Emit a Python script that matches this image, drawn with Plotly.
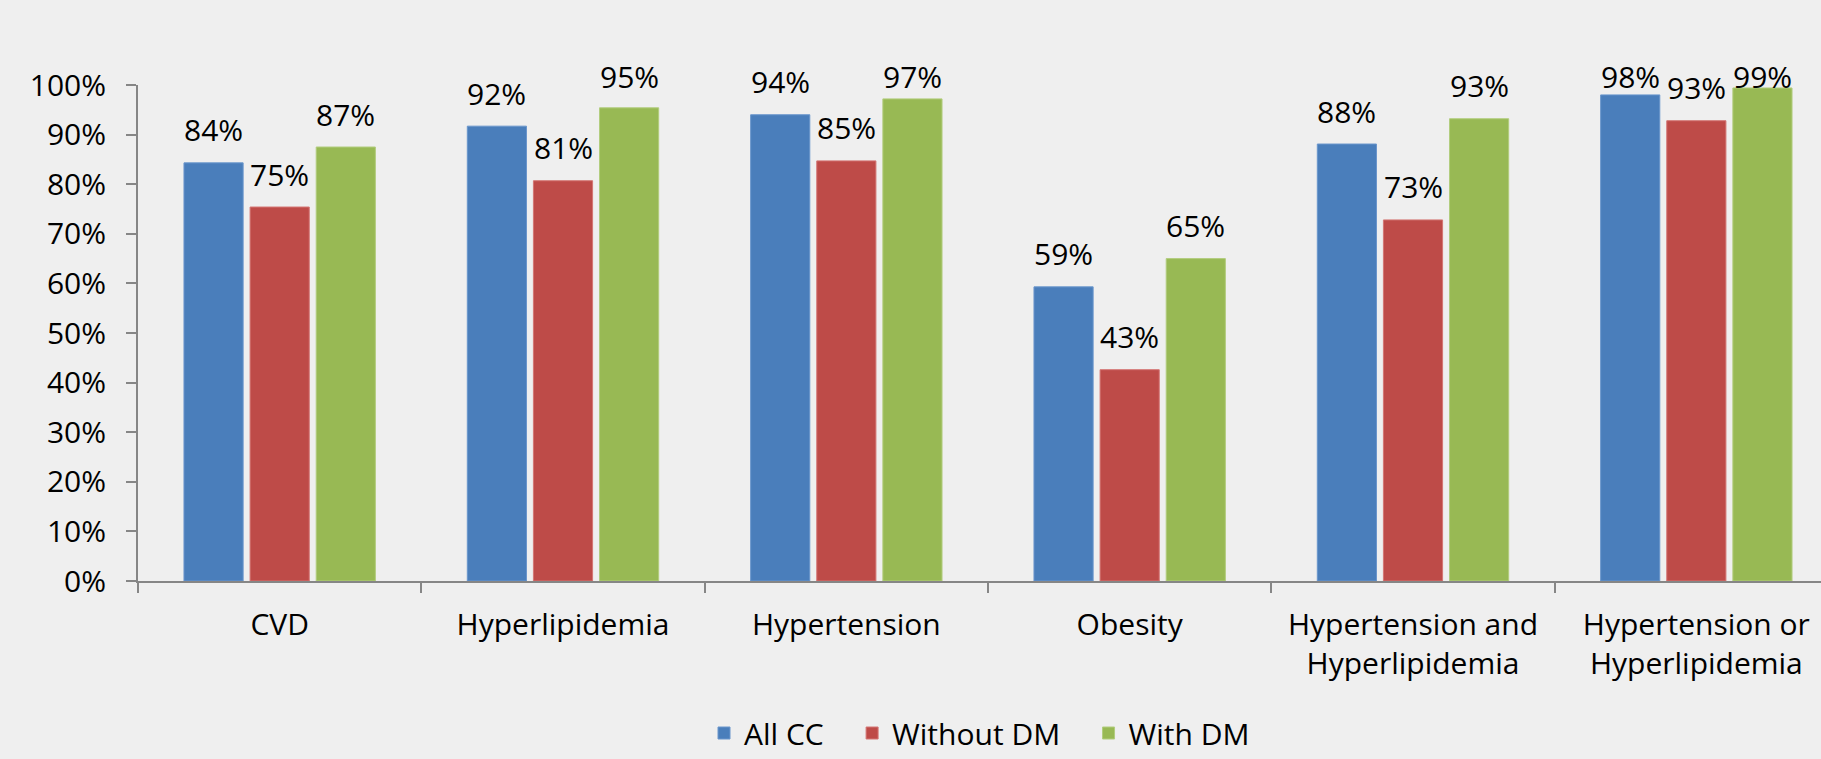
import plotly.graph_objects as go

categories = ["CVD", "Hyperlipidemia", "Hypertension", "Obesity",
              "Hypertension and<br>Hyperlipidemia", "Hypertension or<br>Hyperlipidemia"]
series_names = ["All CC", "Without DM", "With DM"]
all_cc = [84.3, 91.7, 94.0, 59.3, 88.1, 98.0]
without_dm = [75.4, 80.7, 84.7, 42.6, 72.8, 92.8]
with_dm = [87.5, 95.4, 97.2, 65.0, 93.2, 99.4]
label_all_cc = ["84%", "92%", "94%", "59%", "88%", "98%"]
label_without_dm = ["75%", "81%", "85%", "43%", "73%", "93%"]
label_with_dm = ["87%", "95%", "97%", "65%", "93%", "99%"]
y_ticks = [0, 10, 20, 30, 40, 50, 60, 70, 80, 90, 100]
y_ticktext = [f"{v}%" for v in y_ticks]

colors = ["#4A7EBB", "#BE4B48", "#98B954"]
edges = ["#6A96CC", "#D47674", "#B2CD7E"]
legend_pad = ["&nbsp;&nbsp;&nbsp;", "&nbsp;&nbsp;&nbsp;", ""]
values = [all_cc, without_dm, with_dm]
labels_all = [label_all_cc, label_without_dm, label_with_dm]

FONT = "Open Sans"
FS = 30
W, H = 1821, 759
M_L, M_R, M_T, M_B = 138, 0, 85, 177
Y_MAX = 100.0
plot_h = H - M_T - M_B
px_per_unit = plot_h / Y_MAX
label_gap_px = 33          # bar top to label centre
label_top_px = 76          # highest allowed label centre (from figure top)
label_cap = (H - M_B - label_top_px) / px_per_unit

fig = go.Figure()
bargap = 0.30
slot = (1 - bargap) / 3
annotations = []
for k, name in enumerate(series_names):
    vals = values[k]
    fig.add_trace(go.Bar(
        name=name + legend_pad[k], x=categories, y=vals,
        marker=dict(color=colors[k], line=dict(color=edges[k], width=1)),
        hoverinfo="skip",
    ))
    for i, (v, t) in enumerate(zip(vals, labels_all[k])):
        yc = min(v + label_gap_px / px_per_unit, label_cap)
        annotations.append(dict(
            x=i + (k - 1) * slot, y=yc / Y_MAX, xref="x", yref="paper",
            text=t, showarrow=False, yanchor="middle", xanchor="center",
            font=dict(family=FONT, size=FS, color="#000000"),
        ))

fig.update_layout(
    width=W, height=H,
    paper_bgcolor="#EFEFEF", plot_bgcolor="#EFEFEF",
    margin=dict(l=M_L, r=M_R, t=M_T, b=M_B),
    barmode="group", bargap=bargap, bargroupgap=0.105,
    font=dict(family=FONT, size=FS, color="#000000"),
    annotations=annotations,
    showlegend=True,
    legend=dict(
        orientation="h", x=0.5, xanchor="center", y=-0.306, yanchor="middle",
        font=dict(family=FONT, size=FS, color="#000000"),
        bgcolor="rgba(0,0,0,0)", itemwidth=30,
    ),
)
fig.update_xaxes(
    type="category", range=[-0.5, 5.44],
    showline=True, linecolor="#868686", linewidth=2,
    ticks="outside", tickson="boundaries", ticklen=10, tickcolor="#868686", tickwidth=2,
    tickfont=dict(family=FONT, size=FS, color="#000000"),
    showgrid=False, zeroline=False, ticklabelstandoff=16,
)
fig.update_yaxes(
    range=[0, Y_MAX], tickvals=y_ticks, ticktext=y_ticktext,
    showline=True, linecolor="#868686", linewidth=2,
    ticks="outside", ticklen=10, tickcolor="#868686", tickwidth=2,
    tickfont=dict(family=FONT, size=FS, color="#000000"),
    showgrid=False, zeroline=False, ticklabelstandoff=14,
)
fig.write_html("out.html", config={"displayModeBar": False},
               post_script="document.body.style.margin='0';")
